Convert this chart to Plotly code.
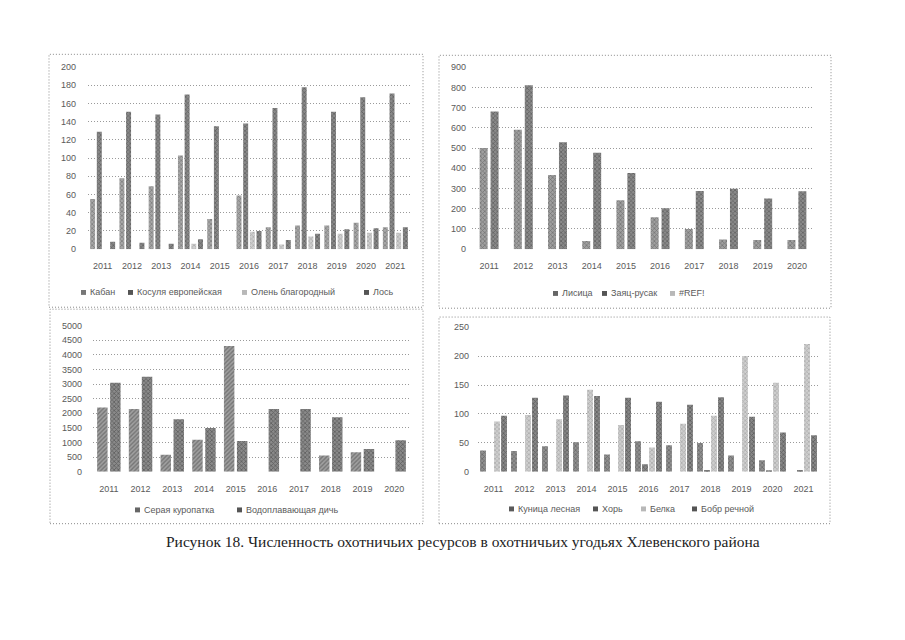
import plotly.graph_objects as go

# ---------------- DATA ----------------
years_a = ["2011", "2012", "2013", "2014", "2015", "2016", "2017", "2018", "2019", "2020", "2021"]
kaban = [55, 78, 69, 103, 33, 59, 24, 26, 26, 29, 24]
kosulya = [129, 151, 148, 170, 135, 138, 155, 178, 151, 167, 171]
olen = [0, 0, 0, 6, 0, 19, 5, 14, 17, 18, 18]
los = [8, 7, 6, 11, 0, 20, 10, 17, 22, 23, 24]

years_b = ["2011", "2012", "2013", "2014", "2015", "2016", "2017", "2018", "2019", "2020"]
lisica = [500, 590, 367, 40, 242, 158, 100, 48, 45, 45]
zayac = [680, 810, 528, 477, 376, 202, 288, 299, 250, 286]
ref_err = [None] * 10

years_c = ["2011", "2012", "2013", "2014", "2015", "2016", "2017", "2018", "2019", "2020"]
kuropatka = [2200, 2150, 580, 1100, 4300, 0, 0, 560, 670, 0]
vodoplav = [3050, 3250, 1800, 1500, 1050, 2150, 2150, 1870, 780, 1080]

years_d = ["2011", "2012", "2013", "2014", "2015", "2016", "2017", "2018", "2019", "2020", "2021"]
kunica = [37, 36, 44, 51, 30, 53, 46, 50, 28, 20, 0]
hor = [0, 0, 0, 0, 0, 13, 0, 3, 0, 2, 3]
belka = [87, 98, 91, 142, 81, 42, 83, 97, 200, 154, 221]
bobr = [97, 128, 132, 131, 128, 121, 116, 129, 95, 68, 63]

caption = "Рисунок 18. Численность охотничьих ресурсов в охотничьих угодьях Хлевенского района"

# ---------------- LAYOUT HELPERS ----------------
# The page body has an 8px default margin, so the figure is drawn at (8, 8).
OFF = 8
W, H = 905 - 2 * OFF, 640 - 2 * OFF
def fx(px):
    return (px - OFF) / W
def fy(py):
    return 1 - (py - OFF) / H

TXT = "#5a5a5a"
GRID = "#9a9a9a"
FONT = "Liberation Sans"
DOT = "1px,2px"

fig = go.Figure()

def add_bars(xname, yname, cats, series, slot, width):
    n = len(series)
    for i, (name, vals, fg, bg, shape) in enumerate(series):
        center = (i - (n - 1) / 2) * slot
        fig.add_trace(go.Bar(
            x=cats, y=vals, name=name, xaxis=xname, yaxis=yname,
            width=width, offset=center - width / 2,
            marker=dict(color=bg, line=dict(width=0),
                        pattern=dict(shape=shape, fgcolor=fg, bgcolor=bg, size=3, solidity=0.45)),
            showlegend=False,
        ))

S1 = [("Кабан", kaban, "#555555", "#a8a8a8", "x"),
      ("Косуля европейская", kosulya, "#3a3a3a", "#8a8a8a", "x"),
      ("Олень благородный", olen, "#8a8a8a", "#d0d0d0", "x"),
      ("Лось", los, "#3a3a3a", "#888888", "x")]
S2 = [("Лисица", lisica, "#4a4a4a", "#a0a0a0", "x"),
      ("Заяц-русак", zayac, "#3a3a3a", "#8a8a8a", "x")]
S3 = [("Серая куропатка", kuropatka, "#4a4a4a", "#a0a0a0", "/"),
      ("Водоплавающая дичь", vodoplav, "#333333", "#8a8a8a", "x")]
S4 = [("Куница лесная", kunica, "#444444", "#909090", "x"),
      ("Хорь", hor, "#3a3a3a", "#888888", "x"),
      ("Белка", belka, "#8a8a8a", "#cfcfcf", "x"),
      ("Бобр речной", bobr, "#333333", "#888888", "x")]

add_bars("x", "y", years_a, S1, slot=0.228, width=0.17)
add_bars("x2", "y2", years_b, S2, slot=0.32, width=0.234)
fig.add_trace(go.Bar(x=years_b, y=ref_err, name="#REF!", xaxis="x2", yaxis="y2",
                     marker=dict(color="#c8c8c8"), showlegend=False))
add_bars("x3", "y3", years_c, S3, slot=0.41, width=0.33)
add_bars("x4", "y4", years_d, S4, slot=0.226, width=0.19)

def xax(x0, x1, anchor):
    return dict(domain=[fx(x0), fx(x1)], anchor=anchor, type="category",
                showgrid=False, showline=False, ticks="", zeroline=False,
                tickfont=dict(family=FONT, size=9, color=TXT), ticklabelstandoff=10)

def yax(y0px, y1px, rng, dtick, anchor, standoff):
    return dict(domain=[fy(y0px), fy(y1px)], anchor=anchor, range=rng, dtick=dtick,
                showgrid=True, gridcolor=GRID, griddash=DOT, gridwidth=1,
                zeroline=False, showline=False, ticks="",
                tickfont=dict(family=FONT, size=9, color=TXT), ticklabelstandoff=standoff)

fig.update_layout(
    width=W, height=H,
    margin=dict(l=0, r=0, t=0, b=0),
    paper_bgcolor="white", plot_bgcolor="white",
    barmode="overlay",
    showlegend=False,
    font=dict(family=FONT, color=TXT),
    xaxis=xax(88, 410, "y"),
    yaxis=yax(248, 63, [0, 200], 20, "x", 11),
    xaxis2=xax(472, 814, "y2"),
    yaxis2=yax(248, 63, [0, 900], 100, "x2", 5),
    xaxis3=xax(93, 410, "y3"),
    yaxis3=yax(474.3, 325.7, [0, 5000], 500, "x3", 10),
    xaxis4=xax(478, 819, "y4"),
    yaxis4=yax(474.3, 327.3, [0, 250], 50, "x4", 8),
)

# Legends: small swatch + label, placed under each panel
def legend_row(yc, entries):
    for x0, name, color in entries:
        fig.add_shape(type="rect", xref="paper", yref="paper",
                      x0=fx(x0), x1=fx(x0 + 5), y0=fy(yc + 2.5), y1=fy(yc - 2.5),
                      line=dict(width=0), fillcolor=color)
        fig.add_annotation(text=name, xref="paper", yref="paper", x=fx(x0 + 6.5), y=fy(yc),
                           xanchor="left", yanchor="middle", showarrow=False,
                           font=dict(family=FONT, size=9, color=TXT))

legend_row(292, [(81, S1[0][0], "#777777"), (128, S1[1][0], "#555555"),
                 (242, S1[2][0], "#b8b8b8"), (364, S1[3][0], "#555555")])
legend_row(293, [(553, S2[0][0], "#666666"), (602, S2[1][0], "#555555"),
                 (670, "#REF!", "#b8b8b8")])
legend_row(513, [(135, S3[0][0], "#666666"), (237, S3[1][0], "#555555")])
legend_row(512, [(509, S4[0][0], "#5a5a5a"), (593, S4[1][0], "#555555"),
                 (641, S4[2][0], "#b8b8b8"), (692, S4[3][0], "#555555")])

# Panel borders (dotted frames)
for (x0, y0, x1, y1) in [(49, 50, 423, 307), (439, 51, 831, 308),
                         (50, 309, 423, 527), (439, 317, 830, 527)]:
    fig.add_shape(type="rect", xref="paper", yref="paper",
                  x0=fx(x0), x1=fx(x1), y0=fy(y1), y1=fy(y0),
                  line=dict(color="#8a8a8a", width=1, dash=DOT), fillcolor="rgba(0,0,0,0)",
                  layer="below")

fig.add_annotation(text=caption, xref="paper", yref="paper", x=fx(463), y=fy(545),
                   xanchor="center", yanchor="middle", showarrow=False,
                   font=dict(family="Liberation Serif", size=15.5, color="#222222"))

fig.write_html("out.html")
